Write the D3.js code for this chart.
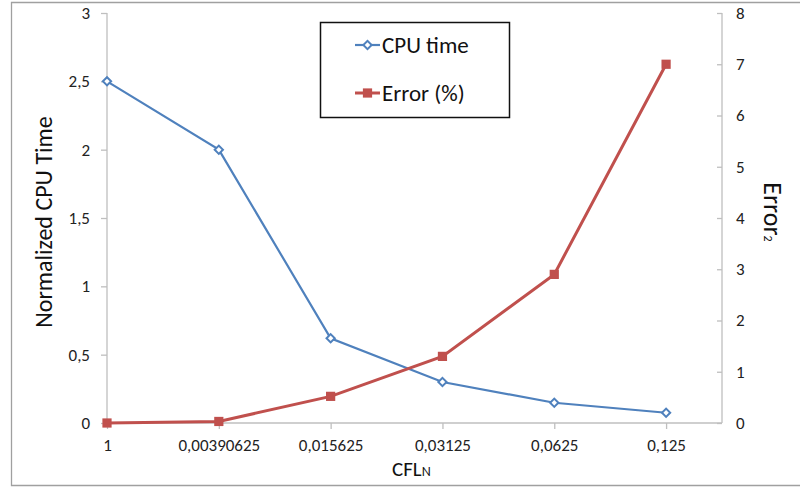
<!DOCTYPE html>
<html>
<head>
<meta charset="utf-8">
<script src="https://cdn.jsdelivr.net/npm/d3@7/dist/d3.min.js"></script>
<style>
  html, body { margin: 0; padding: 0; background: #fff; }
  svg { display: block; font-family: Carlito, Lato, "Open Sans", sans-serif; }
</style>
</head>
<body>
<svg id="chart" width="800" height="487"></svg>
<script>
// Chart data
const categories = ["1", "0,00390625", "0,015625", "0,03125", "0,0625", "0,125"];
const cpuTime = [2.5, 2.0, 0.62, 0.30, 0.148, 0.075];
const errorPct = [0, 0.03, 0.52, 1.3, 2.9, 7.0];
const leftTicks = [0, 0.5, 1, 1.5, 2, 2.5, 3];
const rightTicks = [0, 1, 2, 3, 4, 5, 6, 7, 8];

const blue = "#4F81BD";
const red = "#C0504D";
const axisColor = "#BFBFBF";
const textColor = "#222";

const svg = d3.select("#chart");

// outer frame (top, left, bottom)
svg.append("path")
  .attr("d", "M800,2.5 H11.5 V485.5 H800")
  .attr("fill", "none").attr("stroke", "#A0A0A0").attr("stroke-width", 1.3);

const plot = { left: 107, right: 722, top: 13, bottom: 423 };

const x = d3.scaleLinear().domain([0, categories.length - 0.5]).range([plot.left, plot.right]);
const yL = d3.scaleLinear().domain([0, 3]).range([plot.bottom, plot.top]);
const yR = d3.scaleLinear().domain([0, 8]).range([plot.bottom, plot.top]);

const fmt = d => String(d).replace(".", ",");

// left axis
const gL = svg.append("g").attr("transform", `translate(${plot.left},0)`)
  .call(d3.axisLeft(yL).tickValues(leftTicks).tickFormat(fmt).tickSize(6).tickPadding(11));
// right axis
const gR = svg.append("g").attr("transform", `translate(${plot.right},0)`)
  .call(d3.axisRight(yR).tickValues(rightTicks).tickFormat(fmt).tickSize(-5).tickPadding(14));
// bottom axis
const gB = svg.append("g").attr("transform", `translate(0,${plot.bottom})`)
  .call(d3.axisBottom(x).tickValues(d3.range(categories.length)).tickFormat(i => categories[i]).tickSize(6).tickPadding(10));

[gL, gR, gB].forEach(g => {
  g.select(".domain").attr("stroke", axisColor).attr("stroke-width", 1.3);
  g.selectAll(".tick line").attr("stroke", axisColor).attr("stroke-width", 1.3);
  g.selectAll(".tick text").attr("fill", textColor).style("font-size", "17px")
    .style("font-family", "Carlito, Lato, 'Open Sans', sans-serif");
});
gL.select(".domain").attr("d", `M0,${plot.top}V${plot.bottom}`);
gR.select(".domain").attr("d", `M0,${plot.top}V${plot.bottom}`);
gB.select(".domain").attr("d", `M${plot.left},0H${plot.right}`);

// series lines
const lineCpu = d3.line().x((d, i) => x(i)).y(d => yL(d));
const lineErr = d3.line().x((d, i) => x(i)).y(d => yR(d));

svg.append("path").datum(cpuTime).attr("d", lineCpu)
  .attr("fill", "none").attr("stroke", blue).attr("stroke-width", 2.2);
svg.append("path").datum(errorPct).attr("d", lineErr)
  .attr("fill", "none").attr("stroke", red).attr("stroke-width", 3);

const diamond = d3.symbol().type(d3.symbolSquare).size(34);
svg.selectAll(".cpu-pt").data(cpuTime).join("path")
  .attr("class", "cpu-pt")
  .attr("d", diamond)
  .attr("transform", (d, i) => `translate(${x(i)},${yL(d)}) rotate(45)`)
  .attr("fill", "#fff").attr("stroke", blue).attr("stroke-width", 2);

const square = d3.symbol().type(d3.symbolSquare).size(85);
svg.selectAll(".err-pt").data(errorPct).join("path")
  .attr("class", "err-pt")
  .attr("d", square)
  .attr("transform", (d, i) => `translate(${x(i)},${yR(d)})`)
  .attr("fill", red);

// axis titles
svg.append("text")
  .attr("transform", "translate(52,222) rotate(-90)")
  .attr("text-anchor", "middle")
  .style("font-size", "24px").attr("fill", "#111")
  .text("Normalized CPU Time");

const errTitle = svg.append("text")
  .attr("transform", "translate(764,212) rotate(90)")
  .attr("text-anchor", "middle")
  .style("font-size", "26px").attr("fill", "#111");
errTitle.append("tspan").text("Error");
errTitle.append("tspan").attr("dy", 0).style("font-size", "12px").text("2");

const xTitle = svg.append("text")
  .attr("x", 392).attr("y", 476)
  .style("font-size", "21px").attr("fill", "#111");
xTitle.append("tspan").text("CFL");
xTitle.append("tspan").style("font-size", "14px").text("N");

// legend
const legend = svg.append("g");
legend.append("rect")
  .attr("x", 320.5).attr("y", 22.5).attr("width", 189).attr("height", 95)
  .attr("fill", "#fff").attr("stroke", "#111").attr("stroke-width", 1.5);

const legendItems = [
  { label: "CPU time", color: blue, y: 45, kind: "diamond" },
  { label: "Error (%)", color: red, y: 93, kind: "square" }
];
legendItems.forEach(item => {
  legend.append("line")
    .attr("x1", 355).attr("x2", 380).attr("y1", item.y).attr("y2", item.y)
    .attr("stroke", item.color).attr("stroke-width", item.kind === "square" ? 3 : 2.2);
  legend.append("path")
    .attr("d", item.kind === "square" ? square : diamond)
    .attr("transform", `translate(367.5,${item.y})` + (item.kind === "diamond" ? " rotate(45)" : ""))
    .attr("fill", item.kind === "square" ? item.color : "#fff")
    .attr("stroke", item.kind === "square" ? "none" : item.color)
    .attr("stroke-width", 2);
  legend.append("text")
    .attr("x", 382).attr("y", item.y)
    .attr("dy", "0.35em")
    .style("font-size", "23px").attr("fill", "#111")
    .text(item.label);
});
</script>
</body>
</html>
